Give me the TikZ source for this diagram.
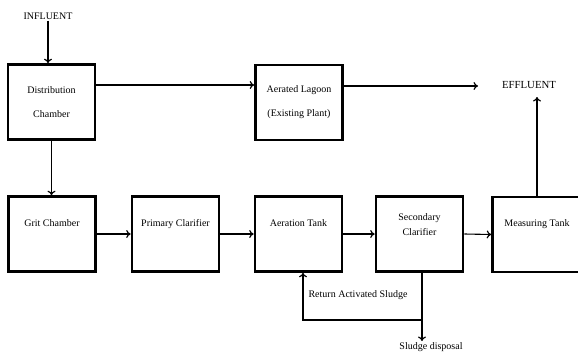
\documentclass[tikz,border=0pt]{standalone}
\usepackage{fontspec}
\setmainfont{Liberation Serif}
\usetikzlibrary{arrows.meta}
\begin{document}
\begin{tikzpicture}[x=1pt,y=-1pt,
  box/.style={draw=black, line width=2.6pt, minimum width=87pt, minimum height=75pt, inner sep=0pt, align=center, font=\fontsize{10}{24}\selectfont},
  lbl/.style={inner sep=1pt, font=\fontsize{10}{12}\selectfont},
  arr/.style={line width=1.1pt, -{To[length=4.5pt,width=8pt,line width=1.2pt]}},
  ln/.style={line width=1.1pt}]
\useasboundingbox (0,0) rectangle (578,356);
% boxes
\node[box] (dist) at (51.5,102) {Distribution\\Chamber};
\node[box] (lag) at (299,102.5) {Aerated Lagoon\\(Existing Plant)};
\node[box, font=\fontsize{10}{12}\selectfont] (grit) at (52,234) {Grit Chamber\\[10pt]};
\node[box, font=\fontsize{10}{12}\selectfont] (prim) at (175.5,234) {Primary Clarifier\\[10pt]};
\node[box, font=\fontsize{10}{12}\selectfont] (aer) at (298.5,234) {Aeration Tank\\[10pt]};
\node[box, font=\fontsize{10}{15}\selectfont] (sec) at (419.5,234) {Secondary\\Clarifier\\[4pt]};
\node[box, minimum width=89pt, font=\fontsize{10}{12}\selectfont] (meas) at (537,234.5) {Measuring Tank\\[10pt]};
% texts
\node[lbl] (infl) at (48,16) {INFLUENT};
\node[lbl, font=\fontsize{10.8}{12}\selectfont] (eff) at (529,85) {EFFLUENT};
\node[lbl] (ras) at (358,295) {Return Activated Sludge};
\node[lbl] (sd) at (431,347) {Sludge disposal};
% connectors
\draw[arr] (infl.south) -- (infl.south |- dist.north);
\coordinate (d1) at ([yshift=17pt]dist.east);
\draw[arr] (d1) -- (d1 -| lag.west);
\coordinate (e1) at (478,86);
\draw[arr] (lag.east |- e1) -- (e1);
\draw[arr] (dist.south) -- (dist.south |- grit.north);
\draw[arr] (grit.east) -- (prim.west);
\draw[arr] (prim.east) -- (aer.west);
\draw[arr] (aer.east) -- (sec.west);
\draw[arr] (sec.east) -- (meas.west);
\coordinate (e2) at (537,97);
\draw[arr] (meas.north) -- (e2);
\coordinate (j) at ([xshift=2.5pt]sec.south |- 0,320);
\draw[ln] ([xshift=2.5pt]sec.south) -- (j);
\draw[arr] (j) -| ([xshift=4.5pt]aer.south);
\draw[arr] (j) -- (j |- 0,341);
\end{tikzpicture}
\end{document}
